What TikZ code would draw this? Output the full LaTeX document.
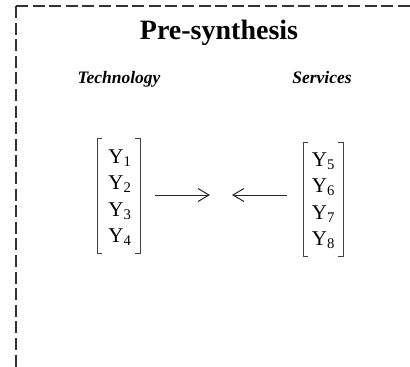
\documentclass[tikz,border=0pt]{standalone}
\usepackage{fontspec}
\setmainfont{Liberation Serif}
\usetikzlibrary{arrows.meta}
\begin{document}
\begin{tikzpicture}[x=1pt,y=-1pt,
  frame/.style={line width=1.3pt,draw=black!80,dash pattern=on 12pt off 4.6pt},
  entry/.style={font=\fontsize{21}{24}\selectfont,inner sep=0pt,anchor=base},
  brk/.style={line width=1pt,draw=black!75},
  conn/.style={line width=1pt,draw=black!85,-{Straight Barb[length=11pt,width=13pt,line width=1pt]}},
  head/.style={font=\fontsize{17.5}{20}\selectfont\bfseries\itshape,inner sep=0pt,anchor=base}]
\useasboundingbox (0,0) rectangle (410,367);
\draw[frame] (16,6) -- (410,6);
\draw[frame] (16,6) -- (16,367);
\node[font=\fontsize{28}{30}\selectfont\bfseries,inner sep=0pt,anchor=base] (title) at (219,39) {Pre-synthesis};
\node[head] (tech) at (119,83) {Technology};
\node[head] (serv) at (322,83) {Services};
\foreach \i/\y in {1/163,2/189.5,3/216,4/242.5}
  \node[entry] (l\i) at (120,\y) {Y\textsubscript{\i}};
\foreach \i/\y in {5/166,6/192.5,7/219,8/245.5}
  \node[entry] (r\i) at (323.5,\y) {Y\textsubscript{\i}};
\draw[brk] (102,138) -- (97,138) -- (97,253) -- (102,253);
\draw[brk] (135,138) -- (140,138) -- (140,253) -- (135,253);
\draw[brk] (308,142) -- (303,142) -- (303,256) -- (308,256);
\draw[brk] (338,142) -- (343,142) -- (343,256) -- (338,256);
\coordinate (a1) at (155,195);
\coordinate (a2) at (210,195);
\coordinate (b1) at (287,195);
\coordinate (b2) at (232,195);
\draw[conn] (a1) -- (a2);
\draw[conn] (b1) -- (b2);
\end{tikzpicture}
\end{document}
